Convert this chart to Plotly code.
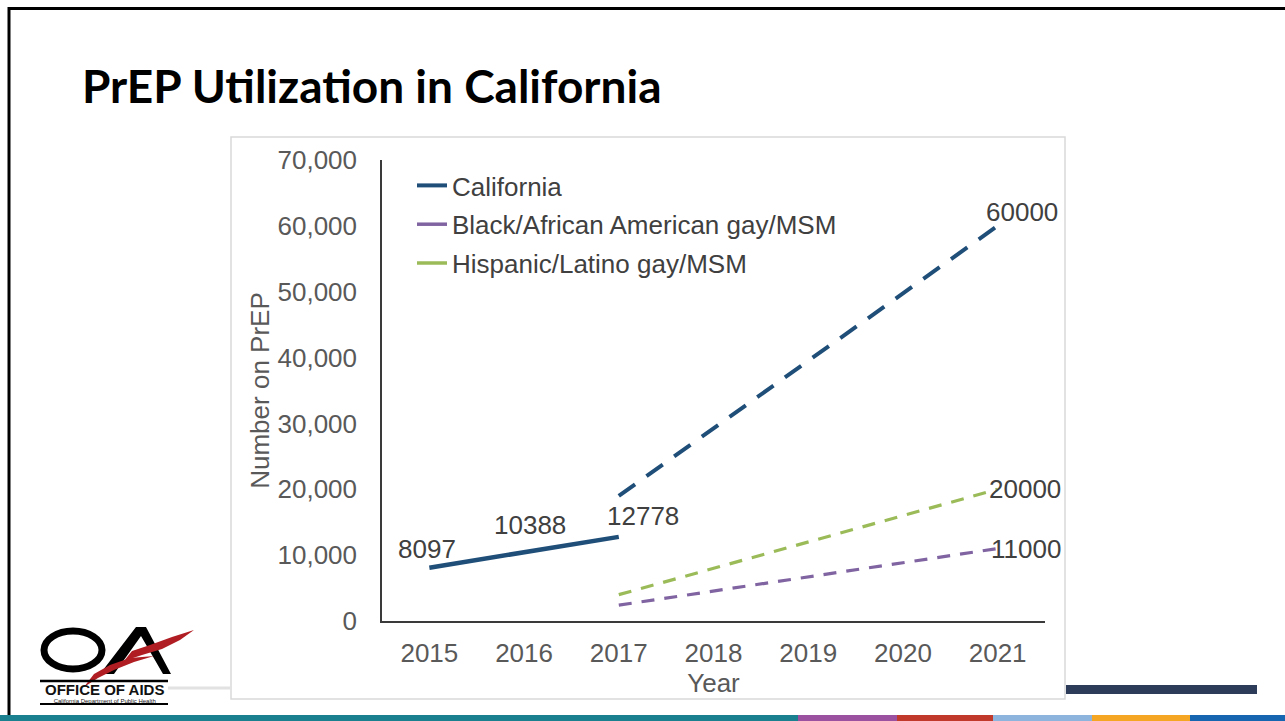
import plotly.graph_objects as go

# ---- data -------------------------------------------------------------
years = ["2015", "2016", "2017", "2018", "2019", "2020", "2021"]

ca_years = ["2015", "2016", "2017"]
ca_values = [8097, 10388, 12778]

proj_years = ["2017", "2021"]
ca_proj = [19000, 60000]
black_proj = [2400, 11000]
latino_proj = [4000, 20000]

y_ticks = [0, 10000, 20000, 30000, 40000, 50000, 60000, 70000]

series_names = ["California", "Black/African American gay/MSM", "Hispanic/Latino gay/MSM"]
series_colors = ["#1F4E79", "#8064A2", "#9BBB59"]

# ---- page geometry (pixels) --------------------------------------------
W, H = 1285, 721
PL, PR, PT, PB = 382, 1045, 160, 621   # plot-area edges


def px(x):
    return (x - PL) / (PR - PL)


def py(y):
    return (PB - y) / (PB - PT)


def path(points, close=True):
    s = "M " + " L ".join(f"{px(x):.5f},{py(y):.5f}" for x, y in points)
    return s + (" Z" if close else "")


def cat(year):
    # position of a category on the x axis
    return years.index(year)


fig = go.Figure()

# legend entries (solid line samples)
for i, (name, col) in enumerate(zip(series_names, series_colors)):
    fig.add_trace(go.Scatter(
        x=[None], y=[None], mode="lines", name=name,
        line=dict(color=col, width=4 if i == 0 else 3.5),
        legendgroup=f"g{i}", showlegend=True, hoverinfo="skip"))

# actual California values
fig.add_trace(go.Scatter(
    x=ca_years, y=ca_values, mode="lines", showlegend=False,
    line=dict(color=series_colors[0], width=4.5)))

# projections
fig.add_trace(go.Scatter(
    x=proj_years, y=ca_proj, mode="lines", showlegend=False,
    line=dict(color=series_colors[0], width=4, dash="20px,14px")))
fig.add_trace(go.Scatter(
    x=proj_years, y=latino_proj, mode="lines", showlegend=False,
    line=dict(color=series_colors[2], width=3.2, dash="13px,10px")))
fig.add_trace(go.Scatter(
    x=proj_years, y=black_proj, mode="lines", showlegend=False,
    line=dict(color=series_colors[1], width=3.2, dash="13px,10px")))

FONT = "Liberation Sans, Arial, sans-serif"
label_font = dict(family=FONT, size=26, color="#404040")
annotations = []

# value labels on actual California points
ca_offsets = [(-2, 19, "center"), (6, 28, "center"), (-14, 21, "left")]
for x, v, (dx, dy, anc) in zip(ca_years, ca_values, ca_offsets):
    annotations.append(dict(x=cat(x), y=v, xref="x", yref="y", text=str(v), showarrow=False,
                            xanchor=anc, yanchor="middle", xshift=dx, yshift=dy,
                            font=label_font))

# value labels on projection end points
end_offsets = [(ca_proj[-1], -14, 14), (latino_proj[-1], -11, 0), (black_proj[-1], -9, 0)]
for v, dx, dy in end_offsets:
    annotations.append(dict(x=cat(proj_years[-1]), y=v, xref="x", yref="y", text=str(v),
                            showarrow=False, xanchor="left", yanchor="middle",
                            xshift=dx, yshift=dy, font=label_font))

# slide title
annotations.append(dict(x=px(80), y=py(86), xref="paper", yref="paper",
                        text="<b>PrEP Utilization in California</b>", showarrow=False,
                        xanchor="left", yanchor="middle",
                        font=dict(family="Lato, Open Sans, sans-serif", size=46, color="#000000")))

# logo text (two lines, tight spacing)
annotations.append(dict(x=px(104), y=py(692), xref="paper", yref="paper",
                        text="<span style='font-size:15px'><b>OFFICE OF AIDS</b></span><br>"
                             "California Department of Public Health",
                        showarrow=False, xanchor="center", yanchor="middle",
                        font=dict(family=FONT, size=6, color="#111111")))

shapes = []
# chart frame
shapes.append(dict(type="rect", xref="paper", yref="paper",
                   x0=px(231), x1=px(1065), y0=py(699), y1=py(137),
                   line=dict(color="#D9D9D9", width=1.5), fillcolor="rgba(0,0,0,0)", layer="below"))
# slide border (top and left)
shapes.append(dict(type="line", xref="paper", yref="paper",
                   x0=px(8), x1=px(1285), y0=py(8.5), y1=py(8.5),
                   line=dict(color="#000000", width=3)))
shapes.append(dict(type="line", xref="paper", yref="paper",
                   x0=px(9), x1=px(9), y0=py(7), y1=py(715),
                   line=dict(color="#000000", width=3)))
# bottom colour strip
strip = [(0, 798, "#1A7F8E"), (798, 897, "#9B51A0"), (897, 993, "#C0392B"),
         (993, 1092, "#8DB4DC"), (1092, 1190, "#F5A623"), (1190, 1285, "#1565B0")]
for x0, x1, c in strip:
    shapes.append(dict(type="rect", xref="paper", yref="paper",
                       x0=px(x0), x1=px(x1), y0=py(721), y1=py(715),
                       line=dict(width=0), fillcolor=c))
# navy accent bar
shapes.append(dict(type="rect", xref="paper", yref="paper",
                   x0=px(1066), x1=px(1257), y0=py(694), y1=py(685),
                   line=dict(width=0), fillcolor="#2C3C59"))
# faint grey rule between logo and chart
shapes.append(dict(type="line", xref="paper", yref="paper",
                   x0=px(168), x1=px(231), y0=py(688), y1=py(688),
                   line=dict(color="#E2E2E2", width=3)))

# logo: "O"
shapes.append(dict(type="circle", xref="paper", yref="paper",
                   x0=px(44), x1=px(102), y0=py(669), y1=py(631),
                   line=dict(color="#000000", width=7), fillcolor="rgba(0,0,0,0)"))
# logo: "A"
shapes.append(dict(type="path", xref="paper", yref="paper",
                   path=path([(136, 627), (146, 627), (171, 674), (163, 674), (141, 636),
                              (114, 674), (100, 674)]),
                   fillcolor="#000000", line=dict(width=0)))
# logo: red ribbons
shapes.append(dict(type="path", xref="paper", yref="paper",
                   path=path([(194, 630), (180, 640), (162, 649), (142, 655), (124, 661),
                              (132, 651), (150, 645), (172, 637)]),
                   fillcolor="#B01E23", line=dict(width=0)))
shapes.append(dict(type="path", xref="paper", yref="paper",
                   path=path([(154, 656), (134, 662), (114, 670), (98, 678), (84, 687),
                              (94, 674), (110, 665), (130, 658)]),
                   fillcolor="#B01E23", line=dict(width=0)))
# logo rules
shapes.append(dict(type="line", xref="paper", yref="paper",
                   x0=px(40), x1=px(168), y0=py(681), y1=py(681),
                   line=dict(color="#000000", width=2.5)))
shapes.append(dict(type="line", xref="paper", yref="paper",
                   x0=px(40), x1=px(168), y0=py(704), y1=py(704),
                   line=dict(color="#000000", width=2)))

axis_font = dict(family=FONT, size=26, color="#595959")

fig.update_layout(
    width=W, height=H,
    margin=dict(l=PL, r=W - PR, t=PT, b=H - PB, autoexpand=False),
    paper_bgcolor="#FFFFFF", plot_bgcolor="#FFFFFF",
    showlegend=True,
    legend=dict(x=px(412), y=py(162), xanchor="left", yanchor="top",
                font=dict(family=FONT, size=26, color="#404040"),
                bgcolor="rgba(0,0,0,0)", tracegroupgap=2, itemwidth=30),
    xaxis=dict(type="category", categoryorder="array", categoryarray=years,
               tickvals=years, range=[-0.5, 6.5],
               showline=True, linecolor="#3A3A3A", linewidth=1.5,
               showgrid=False, zeroline=False, ticks="",
               tickfont=axis_font, ticklabelstandoff=8,
               title=dict(text="Year", font=axis_font, standoff=0),
               automargin=False, fixedrange=True),
    yaxis=dict(range=[0, 70000], tickvals=y_ticks, tickformat=",d",
               showline=True, linecolor="#3A3A3A", linewidth=1.5,
               showgrid=False, zeroline=False, ticks="",
               tickfont=axis_font, ticklabelstandoff=18,
               title=dict(text="Number on PrEP", font=axis_font, standoff=0),
               automargin=False, fixedrange=True),
    annotations=annotations,
    shapes=shapes,
)

fig.write_html("out.html", config={"displayModeBar": False})
